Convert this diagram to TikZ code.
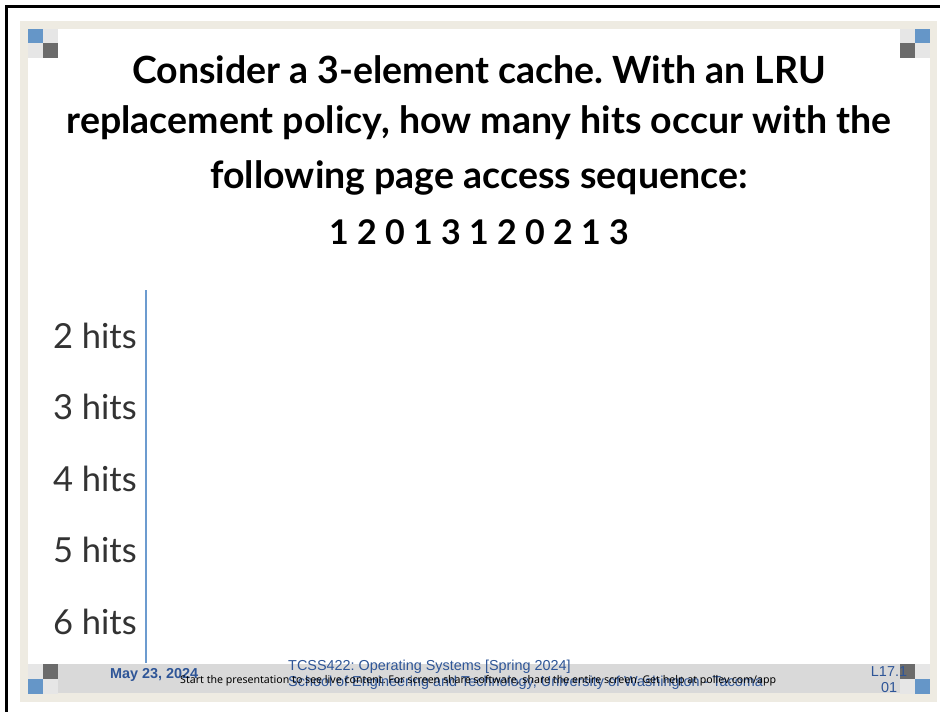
\documentclass[tikz,border=0pt]{standalone}
\usepackage{fontspec}
\setmainfont{Lato}
\newfontfamily\footfont{Liberation Sans}
\newfontfamily\pollfont{Noto Sans}
\frenchspacing
\definecolor{beige}{HTML}{EEEBE2}
\definecolor{barg}{HTML}{D9D9D9}
\definecolor{lightsq}{HTML}{E6E6E6}
\definecolor{darksq}{HTML}{6B6B6B}
\definecolor{bluesq}{HTML}{6596C8}
\definecolor{footblue}{HTML}{2E5597}
\definecolor{hitgray}{HTML}{333333}
\definecolor{axisblue}{HTML}{6C9BCF}
\begin{document}
\begin{tikzpicture}[x=1pt,y=-1pt,
  titlestyle/.style={font=\bfseries\fontsize{37.5}{37.5}\selectfont, anchor=center, inner sep=0pt},
  hitstyle/.style={font=\fontsize{34.5}{34.5}\selectfont, text=hitgray, anchor=east, inner sep=0pt},
  footstyle/.style={font=\footfont\fontsize{14.4}{14.4}\selectfont, text=footblue, inner sep=0pt},
  sq/.style={inner sep=0pt, minimum size=15pt, anchor=north west}]
\useasboundingbox (0,0) rectangle (940,712);
\fill[white] (0,0) rectangle (940,712);
% outer black border
\draw[line width=3pt] (6.5,730) -- (6.5,6.5) -- (960,6.5);
% beige frame
\fill[beige] (20,21) rectangle (937,702);
\fill[white] (28,29) rectangle (930,664);
\fill[barg] (28,664) rectangle (930,693);
% corner squares top-left
\node[sq, fill=bluesq] (tl1) at (28,29) {};
\node[sq, fill=lightsq] (tl2) at (43,29) {};
\node[sq, fill=lightsq] (tl3) at (28,43) {};
\node[sq, fill=darksq] (tl4) at (43,43) {};
% top-right
\node[sq, fill=lightsq] (tr1) at (900,29) {};
\node[sq, fill=bluesq] (tr2) at (915,29) {};
\node[sq, fill=darksq] (tr3) at (900,43) {};
\node[sq, fill=lightsq] (tr4) at (915,43) {};
% bottom-left
\node[sq, fill=lightsq] (bl1) at (28,664) {};
\node[sq, fill=darksq] (bl2) at (43,664) {};
\node[sq, fill=bluesq] (bl3) at (28,679) {};
\node[sq, fill=lightsq] (bl4) at (43,679) {};
% bottom-right
\node[sq, fill=darksq] (br1) at (900,664) {};
\node[sq, fill=lightsq] (br2) at (915,664) {};
\node[sq, fill=lightsq] (br3) at (900,679) {};
\node[sq, fill=bluesq] (br4) at (915,679) {};
% title
\node[titlestyle] (t1) at (479,70) {Consider a 3-element cache. With an LRU};
\node[titlestyle] (t2) at (479,123) {replacement policy, how many hits occur with the};
\node[titlestyle] (t3) at (479,178) {following page access sequence:};
\node[titlestyle, font=\bfseries\fontsize{34}{34}\selectfont] (t4) at (479,232) {1 2 0 1 3 1 2 0 2 1 3};
% axis
\coordinate (ax1) at (145.5,290);
\coordinate (ax2) at (145.5,663);
\draw[axisblue, line width=2pt] (ax1) -- (ax2);
% hits labels
\node[hitstyle] (h2) at (137,336) {2 hits};
\node[hitstyle] (h3) at (137,407) {3 hits};
\node[hitstyle] (h4) at (137,479) {4 hits};
\node[hitstyle] (h5) at (137,550) {5 hits};
\node[hitstyle] (h6) at (137,622) {6 hits};
% footer
\node[footstyle, font=\footfont\bfseries\fontsize{14.4}{14.4}\selectfont, anchor=west] (date) at (110,675) {May 23, 2024};
\node[footstyle, anchor=west] (course) at (288,667) {TCSS422: Operating Systems [Spring 2024]};
\node[footstyle, anchor=west] (school) at (288,683) {School of Engineering and Technology, University of Washington - Tacoma};
\node[footstyle] (pg1) at (889,672) {L17.1};
\node[footstyle] (pg2) at (889,688) {01};
\node[inner sep=0pt, anchor=west, font=\pollfont\fontsize{10.6}{10.6}\selectfont] (poll) at (180,681) {Start the presentation to see live content. For screen share software, share the entire screen. Get help at \textbf{pollev.com/app}};
\end{tikzpicture}
\end{document}
